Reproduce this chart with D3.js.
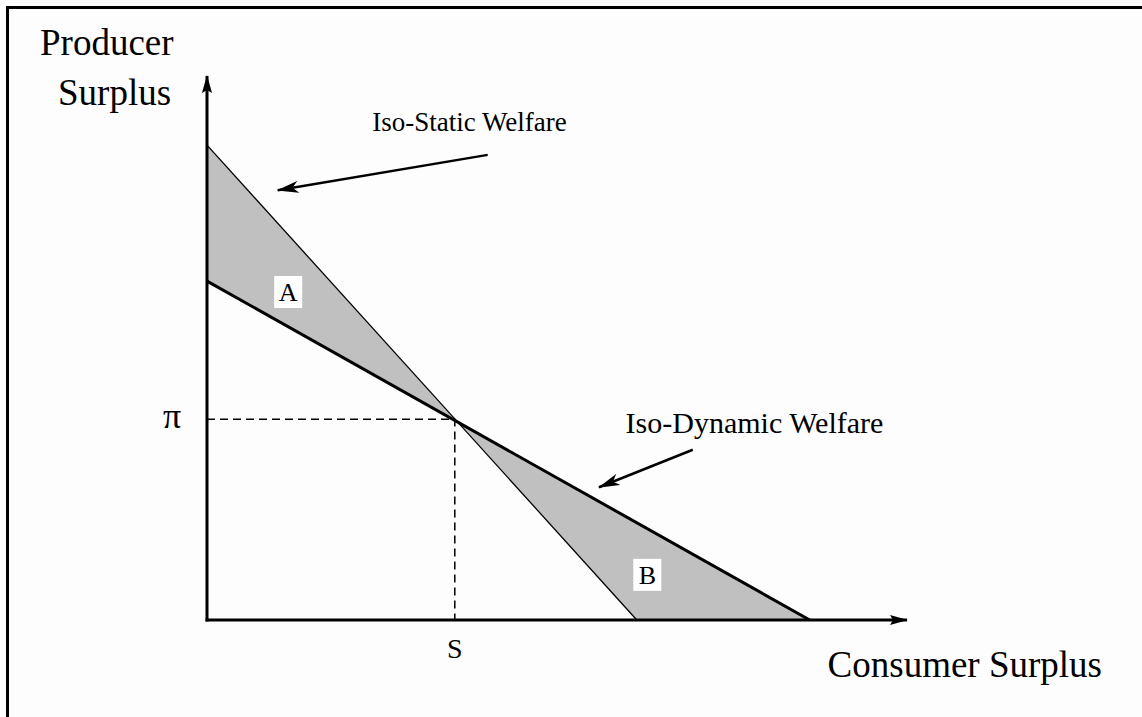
<!DOCTYPE html>
<html>
<head>
<meta charset="utf-8">
<script src="https://cdn.jsdelivr.net/npm/d3@7"></script>
<style>
  html, body { margin: 0; padding: 0; background: #fdfdfd; }
  svg { display: block; }
  text { font-family: "Liberation Serif", "Times New Roman", serif; fill: #000; }
</style>
</head>
<body>
<div id="chart"></div>
<script>
// Two welfare lines in (consumer surplus, producer surplus) space
const staticLine = [[0, 8.73], [6.14, 0]];    // Iso-Static Welfare
const dynamicLine = [[0, 6.23], [8.61, 0]];   // Iso-Dynamic Welfare
const crossing = [3.54, 3.69];                // (S, pi)
const regionA = [[0, 8.73], crossing, [0, 6.23]];
const regionB = [crossing, [8.61, 0], [6.14, 0]];
const tickLabels = ["S", "\u03c0"];
const regionLabels = [["A", 1.16, 6.03], ["B", 6.29, 0.83]];
const arrows = [
  ["Iso-Static Welfare", [4.01, 8.55], [1.01, 7.90], [2.36, 8.99]],
  ["Iso-Dynamic Welfare", [6.94, 3.13], [5.60, 2.44], [5.98, 3.43]]
];

const W = 1142, H = 717;
const svg = d3.select("#chart").append("svg")
  .attr("width", W).attr("height", H);

// frame (only the top and left edges fall inside the picture)
svg.append("rect")
  .attr("x", 7.5).attr("y", 7.5)
  .attr("width", 1300).attr("height", 900)
  .attr("fill", "none").attr("stroke", "#000").attr("stroke-width", 3);

const x = d3.scaleLinear().domain([0, 10]).range([207, 907]);
const y = d3.scaleLinear().domain([0, 10]).range([620, 76]);

const defs = svg.append("defs");
defs.append("marker")
  .attr("id", "head")
  .attr("viewBox", "0 0 22 12")
  .attr("refX", 21).attr("refY", 6)
  .attr("markerWidth", 22).attr("markerHeight", 12)
  .attr("markerUnits", "userSpaceOnUse")
  .attr("orient", "auto")
  .append("path").attr("d", "M0,0 L22,6 L0,12 L6,6 Z").attr("fill", "#000");
defs.append("marker")
  .attr("id", "axhead")
  .attr("viewBox", "0 0 18 10")
  .attr("refX", 17).attr("refY", 5)
  .attr("markerWidth", 18).attr("markerHeight", 10)
  .attr("markerUnits", "userSpaceOnUse")
  .attr("orient", "auto")
  .append("path").attr("d", "M0,0 L18,5 L0,10 L3,5 Z").attr("fill", "#000");

const line = d3.line().x(d => x(d[0])).y(d => y(d[1]));

// shaded regions
svg.selectAll(".region")
  .data([regionA, regionB])
  .enter().append("path")
  .attr("class", "region")
  .attr("d", d => line(d) + "Z")
  .attr("fill", "#c0c0c0");

// dashed guides to the crossing point
svg.append("path")
  .attr("d", line([[0, crossing[1]], crossing, [crossing[0], 0]]))
  .attr("fill", "none").attr("stroke", "#000")
  .attr("stroke-width", 1.5).attr("stroke-dasharray", "8,5");

// welfare lines
svg.append("path").attr("d", line(staticLine))
  .attr("fill", "none").attr("stroke", "#000").attr("stroke-width", 1.3);
svg.append("path").attr("d", line(dynamicLine))
  .attr("fill", "none").attr("stroke", "#000").attr("stroke-width", 3);

// axes
svg.append("line")
  .attr("x1", x(0)).attr("y1", y(0) + 1.5).attr("x2", x(0)).attr("y2", y(10))
  .attr("stroke", "#000").attr("stroke-width", 3).attr("marker-end", "url(#axhead)");
svg.append("line")
  .attr("x1", x(0) - 1.5).attr("y1", y(0)).attr("x2", x(10)).attr("y2", y(0))
  .attr("stroke", "#000").attr("stroke-width", 3).attr("marker-end", "url(#axhead)");

// tick labels
svg.append("text")
  .attr("x", x(crossing[0])).attr("y", y(0) + 38)
  .attr("text-anchor", "middle").attr("font-size", 28)
  .text(tickLabels[0]);
svg.append("text")
  .attr("x", x(0) - 35).attr("y", y(crossing[1]) + 9)
  .attr("text-anchor", "middle").attr("font-size", 36)
  .text(tickLabels[1]);

// axis titles
svg.append("text").attr("x", 40).attr("y", 55).attr("font-size", 37).text("Producer");
svg.append("text").attr("x", 58).attr("y", 105).attr("font-size", 37).text("Surplus");
svg.append("text").attr("x", 1102).attr("y", 677).attr("text-anchor", "end")
  .attr("font-size", 37).text("Consumer Surplus");

// region labels in white boxes
regionLabels.forEach(([t, lx, ly]) => {
  const g = svg.append("g").attr("transform", `translate(${x(lx)},${y(ly)})`);
  g.append("rect").attr("x", -14).attr("y", -16).attr("width", 28).attr("height", 32).attr("fill", "#fff");
  g.append("text").attr("y", 9).attr("text-anchor", "middle").attr("font-size", 26).text(t);
});

// annotations with arrows
arrows.forEach(([t, from, to, at]) => {
  svg.append("line")
    .attr("x1", x(from[0])).attr("y1", y(from[1]))
    .attr("x2", x(to[0])).attr("y2", y(to[1]))
    .attr("stroke", "#000").attr("stroke-width", 2.5)
    .attr("marker-end", "url(#head)");
  svg.append("text")
    .attr("x", x(at[0])).attr("y", y(at[1]))
    .attr("font-size", t.includes("Static") ? 27 : 30)
    .text(t);
});
</script>
</body>
</html>
